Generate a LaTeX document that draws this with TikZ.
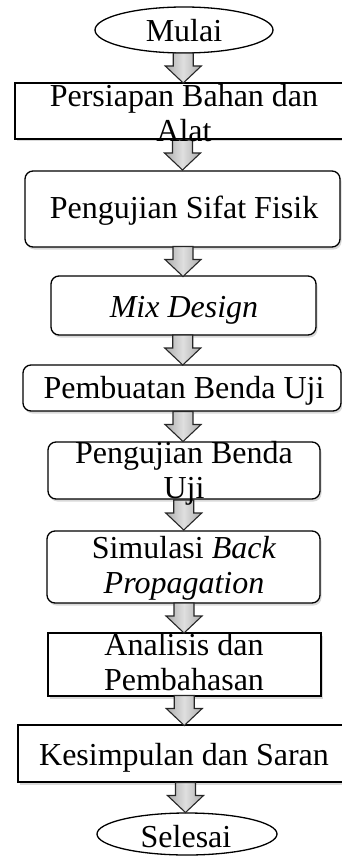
\documentclass[tikz,border=0pt]{standalone}
\usepackage{fontspec}
\setmainfont{Liberation Serif}
\usetikzlibrary{positioning,shapes,shapes.geometric,shadows,calc}
\tikzset{
terminal/.style={ellipse, draw=black, line width=1.3pt, fill=white, inner sep=0pt},
procbox/.style={rectangle, draw=black, line width=1.3pt, fill=white,
                drop shadow={shadow xshift=1.5pt, shadow yshift=-2.5pt, opacity=0.3}},
roundbox/.style={procbox, rounded corners=8pt},
blkarrow/.style={draw=black!85, line width=1.1pt, line join=miter,
                 left color=gray!65, right color=gray!65, middle color=gray!25},
downarrow/.pic={
    \path[blkarrow] (-10,-15) -- (10,-15) -- (10,-2) -- (18,-2) -- (0,15)
        -- (-18,-2) -- (-10,-2) -- cycle;
},
txt/.style={anchor=base, align=center, inner sep=0pt,
            font=\fontsize{32}{35}\selectfont},
}
\begin{document}
\begin{tikzpicture}[x=1pt, y=-1pt]

    \useasboundingbox (0,0) rectangle (342,861);

    \node[terminal, minimum width=178pt, minimum height=46pt] (start) at (184, 30) {};

    \node[procbox, minimum width=335pt, minimum height=56pt] (b1) at (182.5, 111) {};
    \node[roundbox, minimum width=315pt, minimum height=76pt] (b2) at (182.5, 209) {};
    \node[roundbox, minimum width=265pt, minimum height=59pt] (b3) at (183.5, 305.5) {};
    \node[roundbox, minimum width=318pt, minimum height=46pt] (b4) at (182, 388) {};
    \node[roundbox, minimum width=272pt, minimum height=57pt] (b5) at (184, 470.5) {};
    \node[roundbox, minimum width=273pt, minimum height=72pt] (b6) at (183.5, 567) {};
    \node[procbox, minimum width=273pt, minimum height=63pt] (b7) at (184.5, 664.5) {};
    \node[procbox, minimum width=332pt, minimum height=57pt] (b8) at (184, 753.5) {};

    \node[terminal, minimum width=180pt, minimum height=42pt] (stop) at (187, 834) {};

    % block arrows between the steps
    \pic (a1) at ($(start.south)!0.5!(b1.north)$) {downarrow};
    \pic (a2) at ($(b1.south)!0.5!(b2.north)$) {downarrow};
    \pic (a3) at ($(b2.south)!0.5!(b3.north)$) {downarrow};
    \pic (a4) at ($(b3.south)!0.5!(b4.north)$) {downarrow};
    \pic (a5) at ($(b4.south)!0.5!(b5.north)$) {downarrow};
    \pic (a6) at ($(b5.south)!0.5!(b6.north)$) {downarrow};
    \pic (a7) at ($(b6.south)!0.5!(b7.north)$) {downarrow};
    \pic (a8) at ($(b7.south)!0.5!(b8.north)$) {downarrow};
    \pic (a9) at ($(b8.south)!0.5!(stop.north)$) {downarrow};

    % texts (base = last line)
    \node[txt] (t0) at (184, 42)  {Mulai};
    \node[txt] (t1) at (184, 142) {Persiapan Bahan dan\\Alat};
    \node[txt] (t2) at (184, 218) {Pengujian Sifat Fisik};
    \node[txt] (t3) at (184, 317) {\itshape Mix Design};
    \node[txt] (t4) at (184, 398) {Pembuatan Benda Uji};
    \node[txt] (t5) at (184, 498) {Pengujian Benda\\Uji};
    \node[txt] (t6) at (184, 593) {Simulasi \textit{Back}\\\textit{Propagation}};
    \node[txt] (t7) at (184, 690) {Analisis dan\\Pembahasan};
    \node[txt] (t8) at (184, 765) {Kesimpulan dan Saran};
    \node[txt] (t9) at (186, 847) {Selesai};

\end{tikzpicture}
\end{document}
